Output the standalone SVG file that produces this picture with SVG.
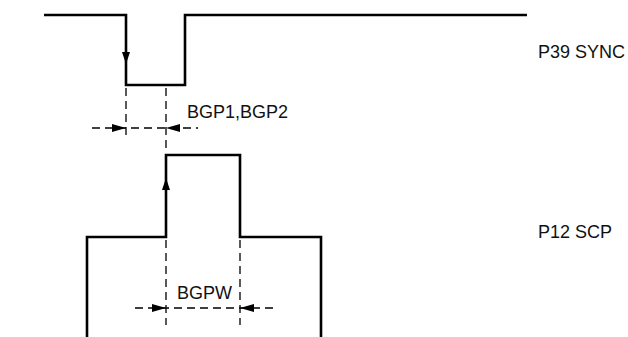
<svg xmlns="http://www.w3.org/2000/svg" width="628" height="337" viewBox="0 0 628 337">
<style>
.w{fill:none;stroke:#000;stroke-width:2.6;stroke-linejoin:miter}
.d{fill:none;stroke:#000;stroke-width:1.3;stroke-dasharray:8,5}
.t{font-family:"Liberation Sans",Arial,sans-serif;font-size:18px;fill:#111}
.a{fill:#000}
</style>
<rect width="628" height="337" fill="#fff"/>
<g id="sync">
<path class="w" d="M44,15 H126 V85 H185 V15 H527"/>
<polygon class="a" points="122,52 130,52 126,64"/>
<text class="t" x="538" y="58">P39 SYNC</text>
</g>
<g id="scp">
<path class="w" d="M87,337 V237 H166 V155 H240 V237 H321 V337"/>
<polygon class="a" points="162,190 170,190 166,178"/>
<text class="t" x="538" y="238">P12 SCP</text>
</g>
<g id="connectors">
<line class="d" x1="126" y1="88" x2="126" y2="138"/>
<line class="d" x1="166" y1="88" x2="166" y2="152"/>
<line class="d" x1="92" y1="128" x2="198" y2="128"/>
<polygon class="a" points="112,124 112,132 126,128"/>
<polygon class="a" points="180,124 180,132 166,128"/>
<line class="d" x1="166" y1="240" x2="166" y2="325"/>
<line class="d" x1="240" y1="240" x2="240" y2="325"/>
<line class="d" x1="135" y1="308" x2="275" y2="308"/>
<polygon class="a" points="152,304 152,312 166,308"/>
<polygon class="a" points="254,304 254,312 240,308"/>
</g>
<g id="labels">
<text class="t" x="187" y="118">BGP1,BGP2</text>
<text class="t" x="177" y="299">BGPW</text>
</g>
</svg>
